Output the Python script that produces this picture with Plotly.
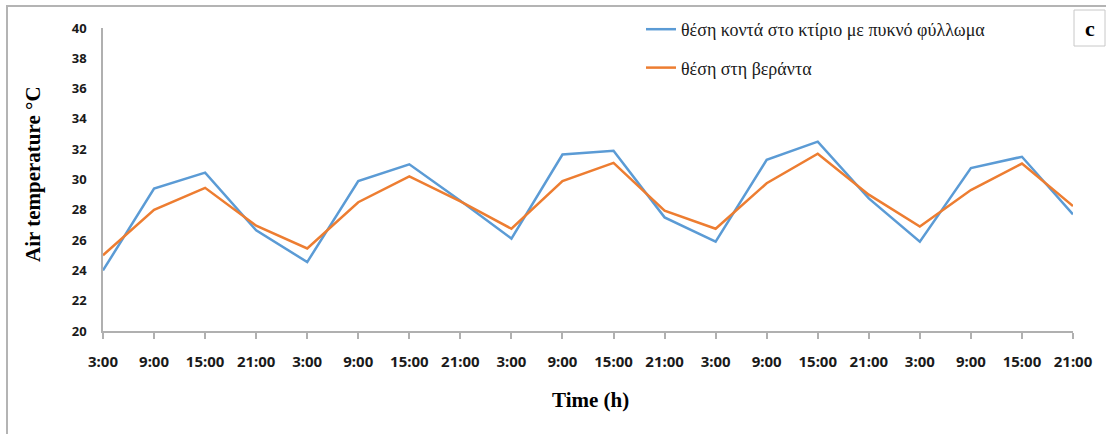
import plotly.graph_objects as go

tick_labels = ["3:00", "9:00", "15:00", "21:00"] * 5
x_index = list(range(len(tick_labels)))

near_building = [24.0, 29.4, 30.45, 26.65, 24.55, 29.9, 31.0, 28.6, 26.1, 31.65,
                 31.9, 27.5, 25.9, 31.3, 32.5, 28.75, 25.9, 30.75, 31.5, 27.7]
veranda = [25.0, 28.0, 29.45, 26.95, 25.45, 28.5, 30.2, 28.55, 26.75, 29.9,
           31.1, 27.95, 26.75, 29.75, 31.7, 29.0, 26.9, 29.3, 31.05, 28.25]

series_names = ["θέση κοντά στο κτίριο με πυκνό φύλλωμα", "θέση στη βεράντα"]
series_colors = ["#5B9BD5", "#ED7D31"]

W, H = 1106, 434

fig = go.Figure()
for name, vals, col in zip(series_names, [near_building, veranda], series_colors):
    fig.add_trace(go.Scatter(
        x=x_index, y=vals, mode="lines", name=name, legendgroup=name,
        line=dict(color=col, width=2.5),
    ))

fig.update_layout(
    width=W, height=H, autosize=False,
    margin=dict(l=0, r=0, t=0, b=0),
    paper_bgcolor="white", plot_bgcolor="white",
    showlegend=True,
    legend=dict(
        x=641 / W, xanchor="left", y=1 - 11 / H, yanchor="top",
        font=dict(family="Liberation Serif, DejaVu Serif, serif", size=18, color="#1a1a1a"),
        tracegroupgap=12, bgcolor="rgba(0,0,0,0)", itemwidth=30,
    ),
    xaxis=dict(
        domain=[103 / W, 1073 / W],
        range=[0, 19], tickmode="array", tickvals=x_index, ticktext=tick_labels,
        showline=True, linecolor="#b0b0b0", linewidth=1.5,
        ticks="outside", ticklen=6, tickcolor="#b0b0b0", tickwidth=1.5,
        showgrid=False, zeroline=False,
        tickfont=dict(family="Noto Sans", size=15, color="#1a1a1a", weight="bold"),
        ticklabelstandoff=10, automargin=False,
    ),
    yaxis=dict(
        domain=[1 - 331 / H, 1 - 28 / H],
        range=[20, 40], dtick=2,
        showline=True, linecolor="#b0b0b0", linewidth=1.5,
        ticks="", showgrid=False, zeroline=False,
        tickfont=dict(family="Noto Sans", size=13, color="#1a1a1a", weight="bold"),
        ticklabelstandoff=12, automargin=False,
    ),
    shapes=[
        dict(type="rect", xref="paper", yref="paper",
             x0=7 / W, x1=1.05, y0=-0.05, y1=1 - 6 / H,
             line=dict(color="#b4b4b4", width=2), fillcolor="rgba(0,0,0,0)", layer="below"),
        dict(type="rect", xref="paper", yref="paper",
             x0=1074 / W, x1=1105 / W, y0=1 - 46 / H, y1=1 - 10 / H,
             line=dict(color="#c8c8c8", width=1), fillcolor="white"),
    ],
    annotations=[
        dict(text="<b>Air temperature °C</b>", xref="paper", yref="paper",
             x=33 / W, y=1 - 174 / H, xanchor="center", yanchor="middle",
             textangle=-90, showarrow=False,
             font=dict(family="Liberation Serif", size=21, color="black")),
        dict(text="<b>Time (h)</b>", xref="paper", yref="paper",
             x=590 / W, y=1 - 400 / H, xanchor="center", yanchor="middle",
             showarrow=False,
             font=dict(family="Liberation Serif", size=21, color="black")),
        dict(text="<b>c</b>", xref="paper", yref="paper",
             x=1090 / W, y=1 - 29 / H, xanchor="center", yanchor="middle",
             showarrow=False,
             font=dict(family="Liberation Serif", size=22, color="black")),
    ],
)

fig.write_html("out.html")
